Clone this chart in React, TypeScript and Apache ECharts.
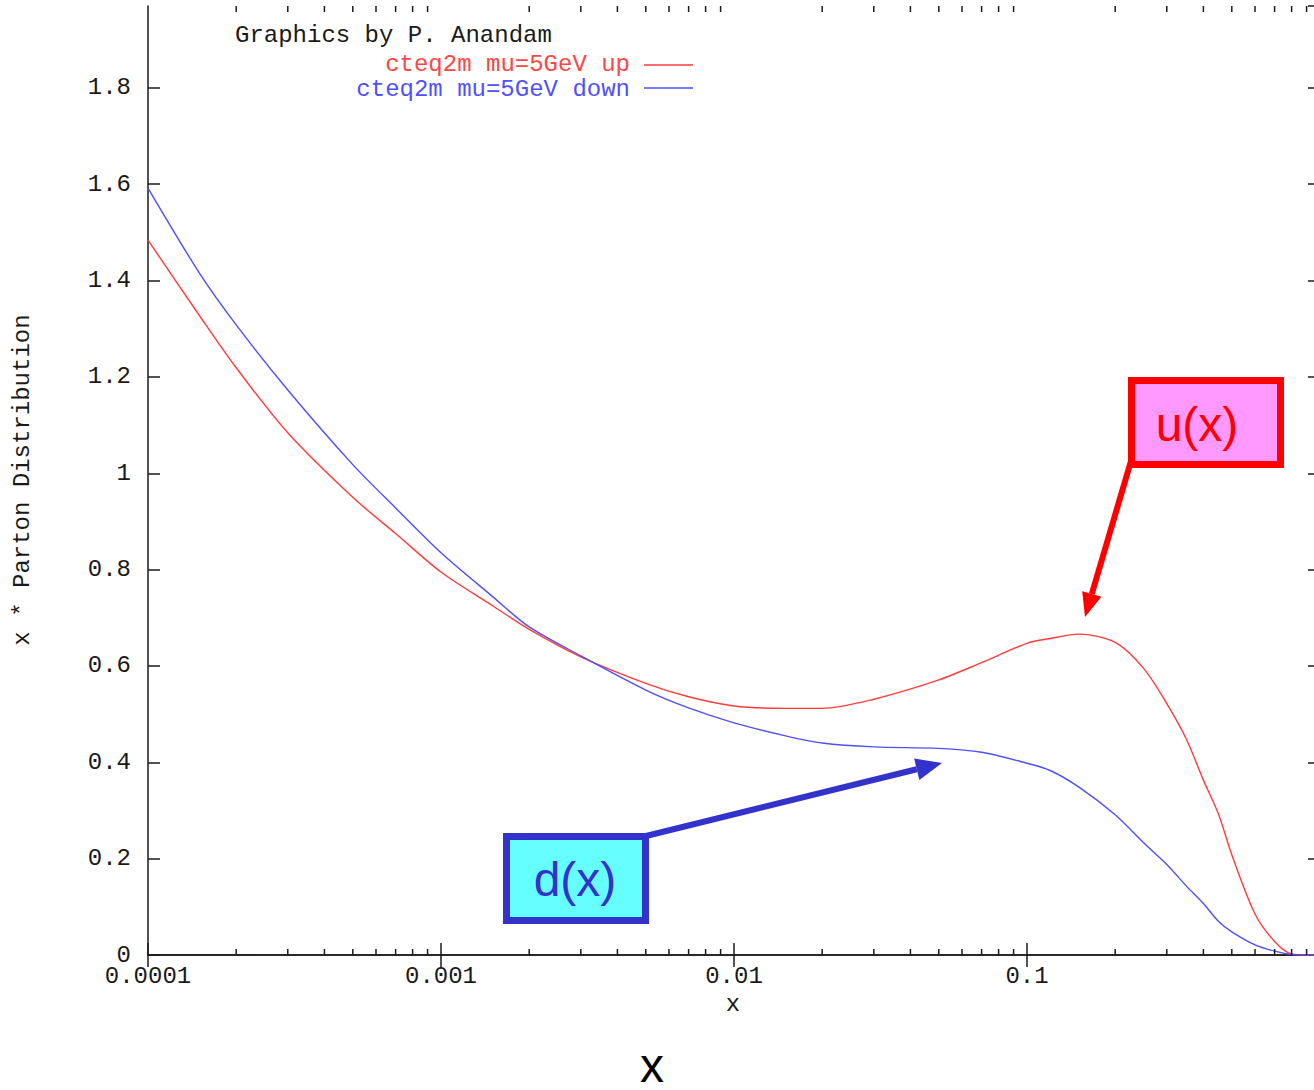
import React, { useEffect, useRef } from "react";
import * as echarts from "echarts";

// Momentum fraction x (log scale) and x*f(x) for the up / down quark distributions
const xValues = [
  1e-4, 1.5e-4, 2e-4, 3e-4, 5e-4, 7e-4, 1e-3, 1.5e-3, 2e-3, 3e-3, 5e-3, 7e-3,
  1e-2, 1.5e-2, 2e-2, 3e-2, 5e-2, 7e-2, 0.1, 0.12, 0.15, 0.2, 0.25, 0.3, 0.35,
  0.4, 0.45, 0.5, 0.6, 0.7, 0.8, 0.9, 1.0,
];
const upValues = [
  1.484, 1.327, 1.219, 1.084, 0.95, 0.875, 0.795, 0.725, 0.676, 0.619, 0.564,
  0.536, 0.517, 0.512, 0.512, 0.531, 0.571, 0.607, 0.647, 0.657, 0.666, 0.649,
  0.595, 0.522, 0.448, 0.363, 0.293, 0.208, 0.085, 0.028, 0.002, 0, 0,
];
const downValues = [
  1.592, 1.415, 1.308, 1.173, 1.018, 0.928, 0.835, 0.744, 0.681, 0.621, 0.55,
  0.513, 0.482, 0.455, 0.44, 0.432, 0.429, 0.421, 0.398, 0.383, 0.349, 0.291,
  0.233, 0.188, 0.143, 0.107, 0.07, 0.048, 0.021, 0.008, 0.001, 0, 0,
];

const xTickValues = [1e-4, 1e-3, 1e-2, 1e-1];
const xTickLabels = ["0.0001", "0.001", "0.01", "0.1"];
const yMin = 0;
const yMax = 1.97;
const yStep = 0.2;

const upName = "cteq2m mu=5GeV up";
const downName = "cteq2m mu=5GeV down";

// minor ticks of the log axis: 2..9 in every decade
const minorTicks: number[] = [];
for (let e = -4; e < 0; e++) {
  for (let m = 2; m <= 9; m++) minorTicks.push(m * Math.pow(10, e));
}

const MONO = "Liberation Mono, DejaVu Sans Mono, monospace";
const SANS = "Liberation Sans, Arial, sans-serif";
const INK = "#1a1a1a";
const RED_LINE = "#ff3b3b";
const BLUE_LINE = "#4f4fff";

function arrowHead(tip: [number, number], from: [number, number], len: number, half: number) {
  const dx = tip[0] - from[0];
  const dy = tip[1] - from[1];
  const d = Math.sqrt(dx * dx + dy * dy);
  const ux = dx / d;
  const uy = dy / d;
  const bx = tip[0] - ux * len;
  const by = tip[1] - uy * len;
  return {
    base: [bx, by] as [number, number],
    points: [
      tip,
      [bx - uy * half, by + ux * half],
      [bx + uy * half, by - ux * half],
    ],
  };
}

export default function App() {
  const ref = useRef<HTMLDivElement>(null);

  useEffect(() => {
    if (!ref.current) return;
    const chart = echarts.init(ref.current, undefined, { renderer: "svg" });

    const axisLine = { show: true, lineStyle: { color: INK, width: 1.5 } };
    const majorTick = { show: true, inside: true, length: 12, lineStyle: { color: INK, width: 1.5 } };
    const labelStyle = { fontFamily: MONO, fontSize: 24, color: INK, lineHeight: 14 };

    const uTip: [number, number] = [1085, 617];
    const uFrom: [number, number] = [1131, 461];
    const uHead = arrowHead(uTip, uFrom, 24, 10);
    const dTip: [number, number] = [942, 763];
    const dFrom: [number, number] = [646, 836];
    const dHead = arrowHead(dTip, dFrom, 26, 11);

    chart.setOption({
      animation: false,
      backgroundColor: "#ffffff",
      // the plot box runs a few pixels past the right edge of the canvas
      grid: {
        left: 148,
        top: 6,
        width: 1172,
        height: 949,
        containLabel: false,
        outerBoundsMode: "none",
      },
      xAxis: [
        {
          type: "log",
          logBase: 10,
          min: 1e-4,
          max: 1,
          position: "bottom",
          axisLine,
          axisTick: majorTick,
          splitLine: { show: false },
          axisLabel: {
            ...labelStyle,
            margin: 14,
            formatter: (v: number) => {
              const i = xTickValues.findIndex((t) => Math.abs(Math.log10(t) - Math.log10(v)) < 1e-6);
              return i >= 0 ? xTickLabels[i] : "";
            },
          },
        },
        {
          type: "log",
          logBase: 10,
          min: 1e-4,
          max: 1,
          position: "top",
          axisLine,
          axisTick: majorTick,
          splitLine: { show: false },
          axisLabel: { show: false },
        },
      ],
      yAxis: [
        {
          type: "value",
          min: yMin,
          max: yMax,
          interval: yStep,
          position: "left",
          axisLine,
          axisTick: majorTick,
          splitLine: { show: false },
          axisLabel: { ...labelStyle, margin: 17, showMaxLabel: false },
        },
        {
          type: "value",
          min: yMin,
          max: yMax,
          interval: yStep,
          position: "right",
          axisLine,
          axisTick: majorTick,
          splitLine: { show: false },
          axisLabel: { show: false },
        },
      ],
      series: [
        {
          name: upName,
          type: "line",
          data: xValues.map((x, i) => [x, upValues[i]]),
          showSymbol: false,
          smooth: 0.3,
          lineStyle: { color: RED_LINE, width: 1.4 },
          itemStyle: { color: RED_LINE },
          z: 3,
        },
        {
          name: downName,
          type: "line",
          data: xValues.map((x, i) => [x, downValues[i]]),
          showSymbol: false,
          smooth: 0.3,
          lineStyle: { color: BLUE_LINE, width: 1.4 },
          itemStyle: { color: BLUE_LINE },
          z: 3,
        },
        {
          type: "custom",
          silent: true,
          clip: false,
          data: minorTicks.map((v) => [v, 0]),
          renderItem: (_params: any, api: any) => {
            const v = api.value(0);
            const b = api.coord([v, yMin]);
            const t = api.coord([v, yMax]);
            const st = { stroke: INK, lineWidth: 1.5 };
            return {
              type: "group",
              children: [
                { type: "line", shape: { x1: b[0], y1: b[1], x2: b[0], y2: b[1] - 6 }, style: st },
                { type: "line", shape: { x1: t[0], y1: t[1], x2: t[0], y2: t[1] + 6 }, style: st },
              ],
            };
          },
          z: 4,
        },
      ],
      graphic: [
        {
          type: "text",
          x: 235,
          y: 35,
          style: { text: "Graphics by P. Anandam", font: `24px ${MONO}`, fill: INK, verticalAlign: "middle", lineHeight: 16 },
        },
        {
          type: "text",
          x: 630,
          y: 64,
          style: { text: upName, font: `24px ${MONO}`, fill: "#ff4646", align: "right", verticalAlign: "middle", lineHeight: 16 },
        },
        { type: "line", shape: { x1: 644, y1: 65, x2: 693, y2: 65 }, style: { stroke: RED_LINE, lineWidth: 1.5 } },
        {
          type: "text",
          x: 630,
          y: 89,
          style: { text: downName, font: `24px ${MONO}`, fill: "#5050ff", align: "right", verticalAlign: "middle", lineHeight: 16 },
        },
        { type: "line", shape: { x1: 644, y1: 88, x2: 693, y2: 88 }, style: { stroke: BLUE_LINE, lineWidth: 1.5 } },
        {
          type: "text",
          x: 22,
          y: 480,
          rotation: Math.PI / 2,
          style: { text: "x * Parton Distribution", font: `24px ${MONO}`, fill: INK, align: "center", verticalAlign: "middle" },
        },
        {
          type: "text",
          x: 733,
          y: 1004,
          style: { text: "x", font: `24px ${MONO}`, fill: INK, align: "center", verticalAlign: "middle", lineHeight: 16 },
        },
        {
          type: "text",
          x: 652,
          y: 1065,
          style: { text: "x", font: `48px ${SANS}`, fill: "#000", align: "center", verticalAlign: "middle", lineHeight: 34 },
        },
        // u(x) call-out
        {
          type: "rect",
          shape: { x: 1131.5, y: 380.5, width: 149, height: 84 },
          style: { fill: "#ff99ff", stroke: "#ff0000", lineWidth: 7 },
          z: 10,
        },
        {
          type: "text",
          x: 1197,
          y: 424,
          style: { text: "u(x)", font: `48px ${SANS}`, fill: "#ff0000", align: "center", verticalAlign: "middle" },
          z: 11,
        },
        {
          type: "line",
          shape: { x1: uFrom[0], y1: uFrom[1], x2: uHead.base[0], y2: uHead.base[1] },
          style: { stroke: "#ff0000", lineWidth: 6 },
          z: 10,
        },
        { type: "polygon", shape: { points: uHead.points }, style: { fill: "#ff0000" }, z: 10 },
        // d(x) call-out
        {
          type: "line",
          shape: { x1: dFrom[0], y1: dFrom[1], x2: dHead.base[0], y2: dHead.base[1] },
          style: { stroke: "#3333cc", lineWidth: 6 },
          z: 10,
        },
        { type: "polygon", shape: { points: dHead.points }, style: { fill: "#3333cc" }, z: 10 },
        {
          type: "rect",
          shape: { x: 506.5, y: 836.5, width: 139, height: 84 },
          style: { fill: "#66ffff", stroke: "#3333cc", lineWidth: 7 },
          z: 10,
        },
        {
          type: "text",
          x: 575,
          y: 879,
          style: { text: "d(x)", font: `48px ${SANS}`, fill: "#3333cc", align: "center", verticalAlign: "middle" },
          z: 11,
        },
      ],
    });

    return () => chart.dispose();
  }, []);

  return (
    <div
      style={{
        position: "fixed",
        left: 0,
        top: 0,
        width: 1314,
        height: 1090,
        overflow: "hidden",
        background: "#fff",
      }}
    >
      <div ref={ref} style={{ width: 1314, height: 1090 }} />
    </div>
  );
}
